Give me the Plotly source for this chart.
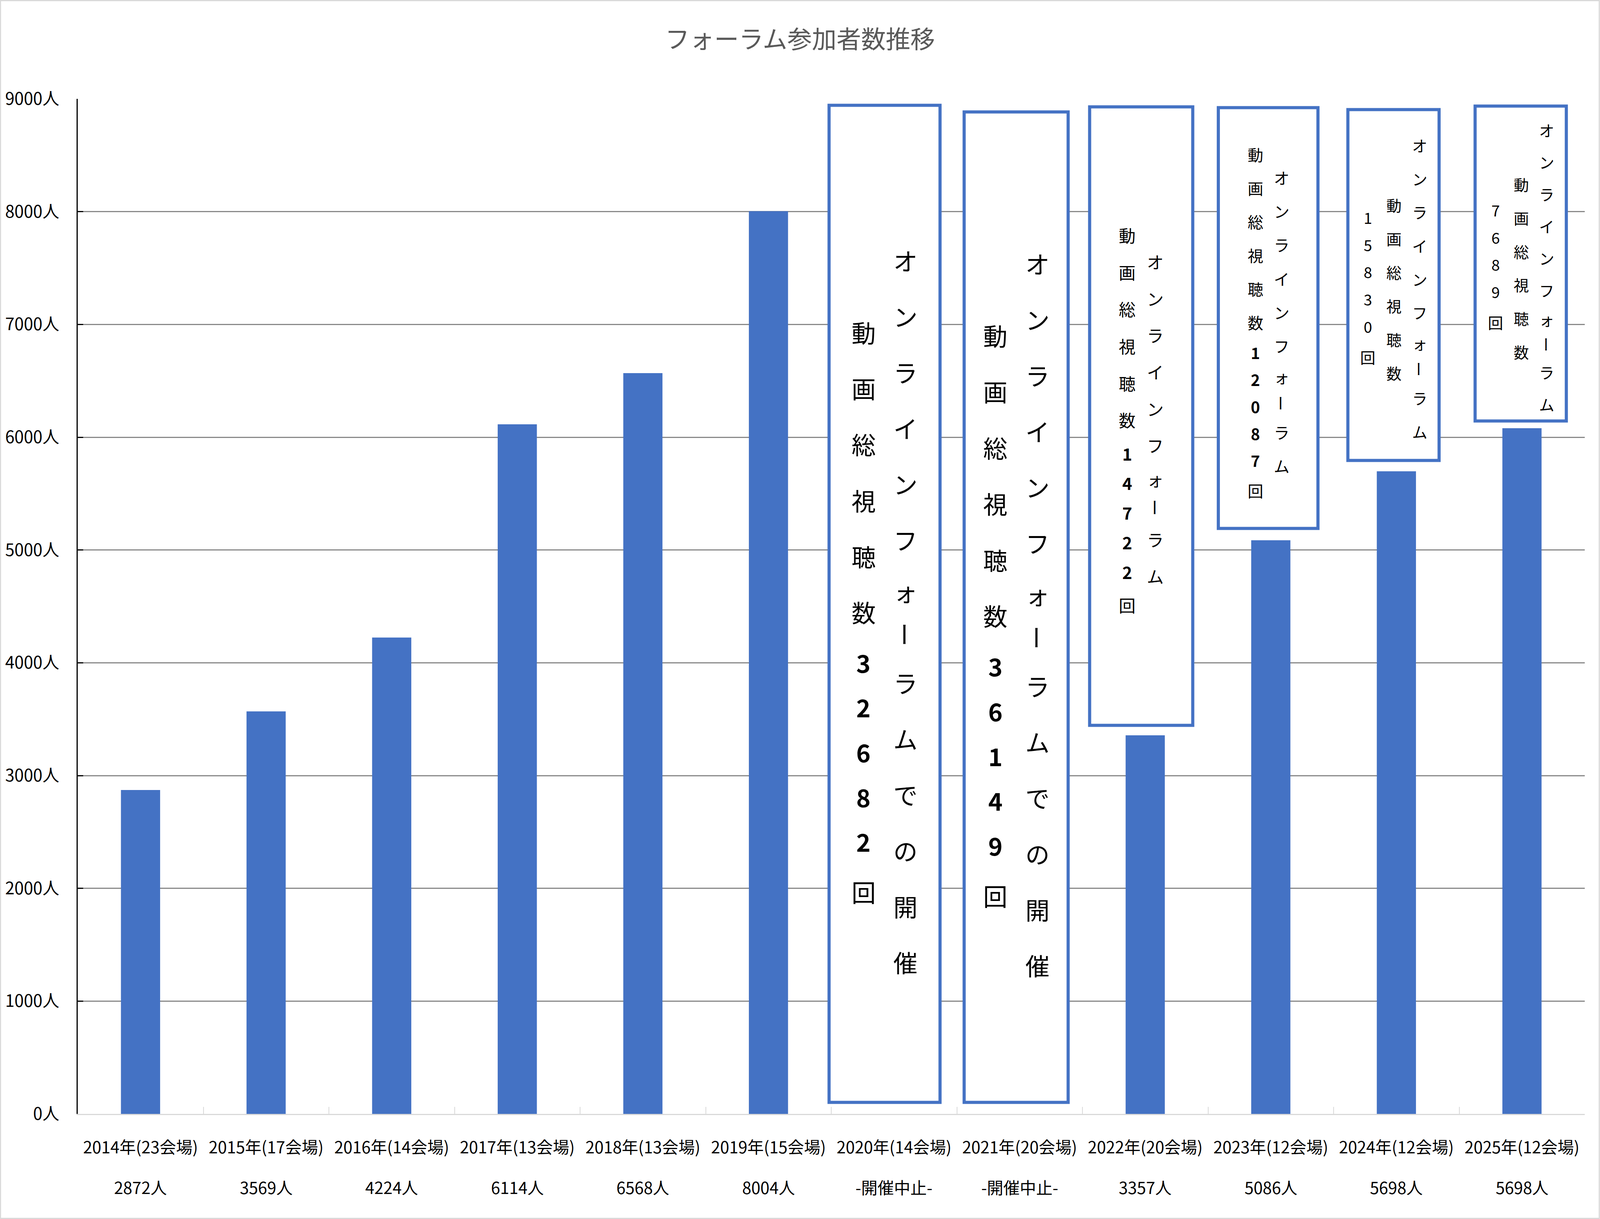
import plotly.graph_objects as go

# ---------------- data ----------------
categories = ["2014年(23会場)", "2015年(17会場)", "2016年(14会場)", "2017年(13会場)",
              "2018年(13会場)", "2019年(15会場)", "2020年(14会場)", "2021年(20会場)",
              "2022年(20会場)", "2023年(12会場)", "2024年(12会場)", "2025年(12会場)"]
second_line = ["2872人", "3569人", "4224人", "6114人", "6568人", "8004人",
               "-開催中止-", "-開催中止-", "3357人", "5086人", "5698人", "5698人"]
participants = [2872, 3569, 4224, 6114, 6568, 8004, None, None, 3357, 5086, 5698, 6080]
y_ticks = [0, 1000, 2000, 3000, 4000, 5000, 6000, 7000, 8000, 9000]
y_tick_text = ["0人", "1000人", "2000人", "3000人", "4000人", "5000人",
               "6000人", "7000人", "8000人", "9000人"]
title_text = "フォーラム参加者数推移"

# text boxes (vertical Japanese text, columns listed right -> left)
box_columns = [
    ["オンラインフォーラムでの開催", "動画総視聴数32682回"],
    ["オンラインフォーラムでの開催", "動画総視聴数36149回"],
    ["オンラインフォーラム", "動画総視聴数14722回"],
    ["オンラインフォーラム", "動画総視聴数12087回"],
    ["オンラインフォーラム", "動画総視聴数", "15830回"],
    ["オンラインフォーラム", "動画総視聴数", "7689回"],
]

# ---------------- layout constants ----------------
# geometry below is measured in reference pixels (5508 x 3120) and mapped to
# the figure through paper fractions, so it scales with the figure width.
REF_W, REF_H = 5508, 3120
FW, FH = 4096, 3120                 # browser viewport actually available
KX = FW / REF_W
PL, PR, PT, PB = 268, 5456, 253, 2851
FONT = "Noto Sans CJK JP"
BLUE = "#4472C4"

def px(x):
    return (x - PL) / (PR - PL)

def py(y):
    return (PB - y) / (PB - PT)

# box outlines: left, top, right, bottom (outer ref px), font size, bold digits
box_geom = [
    (2850, 265, 3241, 2826, 74, True),
    (3315, 282, 3682, 2826, 74, True),
    (3747, 269, 4111, 1861, 51, True),
    (4190, 271, 4542, 1357, 48, True),
    (4636, 276, 4959, 1183, 47, False),
    (5074, 267, 5397, 1082, 46, False),
]
# column placement: (x centre, first char centre y, last char centre y)
col_geom = [
    [(3118, 666, 2462), (2973, 850, 2282)],
    [(3572, 674, 2470), (3427, 858, 2292)],
    [(3978, 669, 1474), (3881, 601, 1548)],
    [(4412, 454, 1192), (4322, 395, 1255)],
    [(4888, 371, 1104), (4799, 524, 954), (4709, 556, 913)],
    [(5325, 332, 1034), (5237, 471, 900), (5149, 537, 824)],
]

fig = go.Figure()
fig.add_trace(go.Bar(
    x=categories, y=participants, marker=dict(color=BLUE, line=dict(width=0)),
    hoverinfo="skip", showlegend=False))

BW = 9
shapes = []
shapes.append(dict(type="rect", xref="paper", yref="paper",
                   x0=px(2), x1=px(REF_W - 2), y0=py(REF_H - 1.5), y1=py(1.5),
                   line=dict(color="#D9D9D9", width=3), fillcolor="rgba(0,0,0,0)",
                   layer="below"))
for (l, t, r, b, fs, bd) in box_geom:
    shapes.append(dict(type="rect", xref="paper", yref="paper",
                       x0=px(l + BW / 2), x1=px(r - BW / 2),
                       y0=py(b - BW / 2), y1=py(t + BW / 2),
                       line=dict(color=BLUE, width=8), fillcolor="white", layer="above"))

def half_adv(ch):
    if ch.isdigit():
        return 0.4
    if ch == "ォ":
        return 0.42
    if ch == "ー":
        return 0.36
    return 0.5

annotations = []
for cols, geoms, (l, t, r, b, fs, bd) in zip(box_columns, col_geom, box_geom):
    for text, (cx, y0, y1) in zip(cols, geoms):
        chars = list(text)
        offs = [0.0]
        for a, c in zip(chars[:-1], chars[1:]):
            offs.append(offs[-1] + half_adv(a) + half_adv(c))
        total = offs[-1] if offs[-1] > 0 else 1
        for ch, o in zip(chars, offs):
            yy = y0 + (y1 - y0) * o / total
            t_ = ch
            if ch.isdigit() and bd:
                t_ = "<b>" + ch + "</b>"
            annotations.append(dict(
                x=px(cx), y=py(yy), xref="paper", yref="paper",
                text=t_, showarrow=False, xanchor="center", yanchor="middle",
                textangle=90 if ch == "ー" else 0,
                font=dict(family=FONT, size=round(fs * 0.84), color="black")))

# second line of category labels
for cat, lab in zip(categories, second_line):
    annotations.append(dict(
        x=cat, xref="x", y=py(3037), yref="paper", text=lab, showarrow=False,
        xanchor="center", yanchor="middle",
        font=dict(family=FONT, size=42, color="black")))

fig.update_layout(
    width=FW, height=FH,
    margin=dict(l=PL * KX, r=(REF_W - PR) * KX, t=PT, b=REF_H - PB, autoexpand=False),
    paper_bgcolor="white", plot_bgcolor="white",
    bargap=0.688,
    title=dict(text=title_text, x=0.5, xref="container",
               xanchor="center", y=1 - 101 / REF_H, yanchor="middle",
               font=dict(family=FONT, size=63, color="#595959")),
    font=dict(family=FONT, size=42, color="black"),
    shapes=shapes, annotations=annotations,
    xaxis=dict(type="category", categoryorder="array", categoryarray=categories,
               range=[-0.5, len(categories) - 0.5],
               showline=True, linecolor="#D9D9D9", linewidth=3,
               ticks="inside", tickson="boundaries", ticklen=18, tickwidth=2,
               tickcolor="#D9D9D9", showgrid=False, zeroline=False,
               tickfont=dict(family=FONT, size=42, color="black"),
               ticklabelstandoff=48),
    yaxis=dict(range=[0, 9000], tickmode="array", tickvals=y_ticks, ticktext=y_tick_text,
               showline=True, linecolor="black", linewidth=2.5,
               ticks="inside", ticklen=14, tickwidth=3, tickcolor="black",
               showgrid=True, gridcolor="#898989", gridwidth=3, zeroline=False,
               tickfont=dict(family=FONT, size=43, color="black"),
               ticklabelstandoff=36),
)

fit_script = """
(function(){
  var gd = document.getElementById('{plot_id}');
  var html = document.documentElement, body = document.body;
  html.style.margin = '0'; html.style.padding = '0'; html.style.overflow = 'hidden';
  body.style.margin = '0'; body.style.padding = '0'; body.style.overflow = 'hidden';
  var W = %d, H = %d, RW = %d, RH = %d;
  var iw = html.clientWidth || window.innerWidth;
  var ih = html.clientHeight || window.innerHeight;
  if (iw > 0 && ih > 0 && (Math.abs(iw - W) > 2 || Math.abs(ih - H) > 2)) {
    var kx = iw / RW, ky = ih / RH;
    Plotly.relayout(gd, {width: iw, height: ih,
      'margin.l': %f * kx, 'margin.r': %f * kx,
      'margin.t': %f * ky, 'margin.b': %f * ky});
  }
})();
""" % (FW, FH, REF_W, REF_H, PL, REF_W - PR, PT, REF_H - PB)

fig.write_html("out.html", post_script=fit_script, config={"displayModeBar": False})
